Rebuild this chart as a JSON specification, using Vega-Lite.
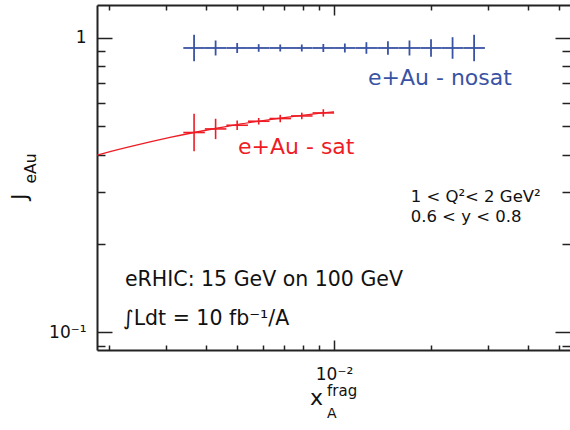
{
  "$schema": "https://vega.github.io/schema/vega-lite/v6.json",
  "width": 473,
  "height": 345,
  "autosize": {"type": "none"},
  "padding": {"left": 97, "top": 5, "right": 0, "bottom": 80},
  "background": "white",
  "config": {"view": {"stroke": null}, "font": "DejaVu Sans", "axis": {"grid": false}},
  "datasets": {
    "nosat": [
      {"x": 0.003676, "xlo": 0.003404, "xhi": 0.003971, "y": 0.922, "ylo": 0.8312, "yhi": 1.0228},
      {"x": 0.004288, "xlo": 0.003971, "xhi": 0.004632, "y": 0.922, "ylo": 0.8696, "yhi": 0.9776},
      {"x": 0.005003, "xlo": 0.004632, "xhi": 0.005404, "y": 0.922, "ylo": 0.8867, "yhi": 0.9587},
      {"x": 0.005836, "xlo": 0.005404, "xhi": 0.006304, "y": 0.922, "ylo": 0.8951, "yhi": 0.9497},
      {"x": 0.006808, "xlo": 0.006304, "xhi": 0.007354, "y": 0.922, "ylo": 0.8971, "yhi": 0.9475},
      {"x": 0.007942, "xlo": 0.007354, "xhi": 0.008579, "y": 0.922, "ylo": 0.8971, "yhi": 0.9475},
      {"x": 0.009265, "xlo": 0.008579, "xhi": 0.010007, "y": 0.922, "ylo": 0.8937, "yhi": 0.9512},
      {"x": 0.010807, "xlo": 0.010007, "xhi": 0.011674, "y": 0.922, "ylo": 0.8902, "yhi": 0.9549},
      {"x": 0.012607, "xlo": 0.011674, "xhi": 0.013618, "y": 0.922, "ylo": 0.8812, "yhi": 0.9647},
      {"x": 0.014707, "xlo": 0.013618, "xhi": 0.015888, "y": 0.922, "ylo": 0.8743, "yhi": 0.9722},
      {"x": 0.017157, "xlo": 0.015888, "xhi": 0.018533, "y": 0.922, "ylo": 0.8696, "yhi": 0.9776},
      {"x": 0.020015, "xlo": 0.018533, "xhi": 0.02162, "y": 0.922, "ylo": 0.8608, "yhi": 0.9876},
      {"x": 0.023349, "xlo": 0.02162, "xhi": 0.025222, "y": 0.922, "ylo": 0.8475, "yhi": 1.0031},
      {"x": 0.027237, "xlo": 0.025222, "xhi": 0.029424, "y": 0.922, "ylo": 0.8312, "yhi": 1.0228}
    ],
    "sat": [
      {"x": 0.003676, "xlo": 0.003404, "xhi": 0.003971, "y": 0.4764, "ylo": 0.4117, "yhi": 0.5512},
      {"x": 0.004288, "xlo": 0.003971, "xhi": 0.004632, "y": 0.4899, "ylo": 0.4524, "yhi": 0.5305},
      {"x": 0.005003, "xlo": 0.004632, "xhi": 0.005404, "y": 0.5042, "ylo": 0.486, "yhi": 0.5231},
      {"x": 0.005836, "xlo": 0.005404, "xhi": 0.006304, "y": 0.5202, "ylo": 0.507, "yhi": 0.5337},
      {"x": 0.006808, "xlo": 0.006304, "xhi": 0.007354, "y": 0.5313, "ylo": 0.5162, "yhi": 0.5469},
      {"x": 0.007942, "xlo": 0.007354, "xhi": 0.008579, "y": 0.5422, "ylo": 0.5285, "yhi": 0.5563},
      {"x": 0.009265, "xlo": 0.008579, "xhi": 0.010007, "y": 0.5551, "ylo": 0.5393, "yhi": 0.5714}
    ],
    "curve": [
      {"x": 0.001836, "y": 0.399},
      {"x": 0.002015, "y": 0.41},
      {"x": 0.002325, "y": 0.4264},
      {"x": 0.002683, "y": 0.4424},
      {"x": 0.003095, "y": 0.4582},
      {"x": 0.003674, "y": 0.4764},
      {"x": 0.004271, "y": 0.4915},
      {"x": 0.004997, "y": 0.5067},
      {"x": 0.005808, "y": 0.52},
      {"x": 0.006797, "y": 0.5331},
      {"x": 0.007955, "y": 0.545},
      {"x": 0.009243, "y": 0.5551},
      {"x": 0.01, "y": 0.56}
    ],
    "bigText": [
      {"x": 0.002243, "y": 0.1439, "text": "eRHIC: 15 GeV on 100 GeV"},
      {"x": 0.002211, "y": 0.1056, "text": "∫Ldt = 10 fb⁻¹/A"}
    ],
    "smallText": [
      {"x": 0.0173, "y": 0.2771, "text": "1 < Q²< 2 GeV²"},
      {"x": 0.0173, "y": 0.2371, "text": "0.6 < y < 0.8"}
    ],
    "blueLabel": [{"x": 0.012754, "y": 0.6893, "text": "e+Au - nosat"}],
    "redLabel": [{"x": 0.005033, "y": 0.4037, "text": "e+Au - sat"}],
    "xTitleMain": [{"x": 0.008424, "y": 0.05669, "text": "x"}],
    "xTitleSub": [{"x": 0.009513, "y": 0.05123, "text": "A"}],
    "xTitleSup": [{"x": 0.009513, "y": 0.0608, "text": "frag"}],
    "yTitleMain": [{"x": 0.001111, "y": 0.2809, "text": "J"}],
    "yTitleSub": [{"x": 0.001187, "y": 0.3199, "text": "eAu"}]
  },
  "layer": [
    {
      "data": {"name": "curve"},
      "mark": {"type": "line", "color": "#ee1c25", "strokeWidth": 1.3, "interpolate": "monotone"},
      "encoding": {
        "x": {"field": "x", "type": "quantitative", "scale": {"type": "log", "domain": [0.001836, 0.05408], "nice": false}, "axis": null},
        "y": {"field": "y", "type": "quantitative", "scale": {"type": "log", "domain": [0.0871, 1.29], "nice": false}, "axis": null}
      }
    },
    {
      "data": {"name": "nosat"},
      "mark": {"type": "rule", "color": "#3953a4", "strokeWidth": 1.8},
      "encoding": {
        "x": {"field": "xlo", "type": "quantitative", "scale": {"type": "log", "domain": [0.001836, 0.05408], "nice": false}, "axis": null},
        "x2": {"field": "xhi"},
        "y": {"field": "y", "type": "quantitative", "scale": {"type": "log", "domain": [0.0871, 1.29], "nice": false}, "axis": null}
      }
    },
    {
      "data": {"name": "nosat"},
      "mark": {"type": "rule", "color": "#3953a4", "strokeWidth": 1.8},
      "encoding": {
        "x": {"field": "x", "type": "quantitative", "scale": {"type": "log", "domain": [0.001836, 0.05408], "nice": false},
          "axis": {"orient": "bottom", "title": null, "values": [0.002, 0.003, 0.004, 0.005, 0.006, 0.007, 0.008, 0.009, 0.01, 0.02, 0.03, 0.04, 0.05],
            "domainColor": "#222", "domainWidth": 2, "tickColor": "#222", "tickWidth": 1.5,
            "tickSize": {"condition": {"test": "datum.value == 0.01", "value": -10}, "value": -5},
            "labelExpr": "datum.value == 0.01 ? '10⁻²' : ''", "labelFontSize": 17, "labelFont": "DejaVu Sans", "labelColor": "#111",
            "labelPadding": 26, "labelFlush": false, "labelOverlap": false}},
        "y": {"field": "ylo", "type": "quantitative", "scale": {"type": "log", "domain": [0.0871, 1.29], "nice": false},
          "axis": {"orient": "left", "title": null, "values": [0.09, 0.1, 0.2, 0.3, 0.4, 0.5, 0.6, 0.7, 0.8, 0.9, 1],
            "domainColor": "#222", "domainWidth": 2, "tickColor": "#222", "tickWidth": 1.5,
            "tickSize": {"condition": {"test": "datum.value == 1 || datum.value == 0.1", "value": -15}, "value": -8},
            "labelExpr": "datum.value == 1 ? '1' : (datum.value == 0.1 ? '10⁻¹' : '')", "labelFontSize": 17, "labelFont": "DejaVu Sans", "labelColor": "#111",
            "labelPadding": 26, "labelFlush": false, "labelOverlap": false}},
        "y2": {"field": "yhi"}
      }
    },
    {
      "data": {"name": "sat"},
      "mark": {"type": "rule", "color": "#ee1c25", "strokeWidth": 1.6},
      "encoding": {
        "x": {"field": "xlo", "type": "quantitative", "scale": {"type": "log", "domain": [0.001836, 0.05408], "nice": false}, "axis": null},
        "x2": {"field": "xhi"},
        "y": {"field": "y", "type": "quantitative", "scale": {"type": "log", "domain": [0.0871, 1.29], "nice": false}, "axis": null}
      }
    },
    {
      "data": {"name": "sat"},
      "mark": {"type": "rule", "color": "#ee1c25", "strokeWidth": 1.6},
      "encoding": {
        "x": {"field": "x", "type": "quantitative", "scale": {"type": "log", "domain": [0.001836, 0.05408], "nice": false},
          "axis": {"orient": "top", "title": null, "values": [0.002, 0.003, 0.004, 0.005, 0.006, 0.007, 0.008, 0.009, 0.01, 0.02, 0.03, 0.04, 0.05],
            "domainColor": "#222", "domainWidth": 2, "tickColor": "#222", "tickWidth": 1.5,
            "tickSize": {"condition": {"test": "datum.value == 0.01", "value": -10}, "value": -5},
            "labels": false}},
        "y": {"field": "ylo", "type": "quantitative", "scale": {"type": "log", "domain": [0.0871, 1.29], "nice": false},
          "axis": {"orient": "right", "title": null, "values": [0.09, 0.1, 0.2, 0.3, 0.4, 0.5, 0.6, 0.7, 0.8, 0.9, 1],
            "domain": false, "tickColor": "#222", "tickWidth": 1.5,
            "tickSize": {"condition": {"test": "datum.value == 1 || datum.value == 0.1", "value": -15}, "value": -8},
            "labels": false}},
        "y2": {"field": "yhi"}
      }
    },
    {
      "data": {"name": "blueLabel"},
      "mark": {"type": "text", "color": "#3953a4", "fontSize": 22, "font": "DejaVu Sans", "align": "left", "baseline": "alphabetic"},
      "encoding": {
        "x": {"field": "x", "type": "quantitative", "scale": {"type": "log", "domain": [0.001836, 0.05408], "nice": false}, "axis": null},
        "y": {"field": "y", "type": "quantitative", "scale": {"type": "log", "domain": [0.0871, 1.29], "nice": false}, "axis": null},
        "text": {"field": "text"}
      }
    },
    {
      "data": {"name": "redLabel"},
      "mark": {"type": "text", "color": "#ee1c25", "fontSize": 22, "font": "DejaVu Sans", "align": "left", "baseline": "alphabetic"},
      "encoding": {
        "x": {"field": "x", "type": "quantitative", "scale": {"type": "log", "domain": [0.001836, 0.05408], "nice": false}, "axis": null},
        "y": {"field": "y", "type": "quantitative", "scale": {"type": "log", "domain": [0.0871, 1.29], "nice": false}, "axis": null},
        "text": {"field": "text"}
      }
    },
    {
      "data": {"name": "bigText"},
      "mark": {"type": "text", "color": "#111", "fontSize": 20.5, "font": "DejaVu Sans", "align": "left", "baseline": "alphabetic"},
      "encoding": {
        "x": {"field": "x", "type": "quantitative", "scale": {"type": "log", "domain": [0.001836, 0.05408], "nice": false}, "axis": null},
        "y": {"field": "y", "type": "quantitative", "scale": {"type": "log", "domain": [0.0871, 1.29], "nice": false}, "axis": null},
        "text": {"field": "text"}
      }
    },
    {
      "data": {"name": "smallText"},
      "mark": {"type": "text", "color": "#111", "fontSize": 16.5, "font": "DejaVu Sans", "align": "left", "baseline": "alphabetic"},
      "encoding": {
        "x": {"field": "x", "type": "quantitative", "scale": {"type": "log", "domain": [0.001836, 0.05408], "nice": false}, "axis": null},
        "y": {"field": "y", "type": "quantitative", "scale": {"type": "log", "domain": [0.0871, 1.29], "nice": false}, "axis": null},
        "text": {"field": "text"}
      }
    },
    {
      "data": {"name": "xTitleMain"},
      "mark": {"type": "text", "color": "#111", "fontSize": 22, "font": "DejaVu Sans", "align": "left", "baseline": "alphabetic"},
      "encoding": {
        "x": {"field": "x", "type": "quantitative", "scale": {"type": "log", "domain": [0.001836, 0.05408], "nice": false}, "axis": null},
        "y": {"field": "y", "type": "quantitative", "scale": {"type": "log", "domain": [0.0871, 1.29], "nice": false}, "axis": null},
        "text": {"field": "text"}
      }
    },
    {
      "data": {"name": "xTitleSub"},
      "mark": {"type": "text", "color": "#111", "fontSize": 14, "font": "DejaVu Sans", "align": "left", "baseline": "alphabetic"},
      "encoding": {
        "x": {"field": "x", "type": "quantitative", "scale": {"type": "log", "domain": [0.001836, 0.05408], "nice": false}, "axis": null},
        "y": {"field": "y", "type": "quantitative", "scale": {"type": "log", "domain": [0.0871, 1.29], "nice": false}, "axis": null},
        "text": {"field": "text"}
      }
    },
    {
      "data": {"name": "xTitleSup"},
      "mark": {"type": "text", "color": "#111", "fontSize": 15, "font": "DejaVu Sans", "align": "left", "baseline": "alphabetic"},
      "encoding": {
        "x": {"field": "x", "type": "quantitative", "scale": {"type": "log", "domain": [0.001836, 0.05408], "nice": false}, "axis": null},
        "y": {"field": "y", "type": "quantitative", "scale": {"type": "log", "domain": [0.0871, 1.29], "nice": false}, "axis": null},
        "text": {"field": "text"}
      }
    },
    {
      "data": {"name": "yTitleMain"},
      "mark": {"type": "text", "color": "#111", "fontSize": 22, "font": "DejaVu Sans", "align": "left", "baseline": "alphabetic", "angle": 270},
      "encoding": {
        "x": {"field": "x", "type": "quantitative", "scale": {"type": "log", "domain": [0.001836, 0.05408], "nice": false}, "axis": null},
        "y": {"field": "y", "type": "quantitative", "scale": {"type": "log", "domain": [0.0871, 1.29], "nice": false}, "axis": null},
        "text": {"field": "text"}
      }
    },
    {
      "data": {"name": "yTitleSub"},
      "mark": {"type": "text", "color": "#111", "fontSize": 15.5, "font": "DejaVu Sans", "align": "left", "baseline": "alphabetic", "angle": 270},
      "encoding": {
        "x": {"field": "x", "type": "quantitative", "scale": {"type": "log", "domain": [0.001836, 0.05408], "nice": false}, "axis": null},
        "y": {"field": "y", "type": "quantitative", "scale": {"type": "log", "domain": [0.0871, 1.29], "nice": false}, "axis": null},
        "text": {"field": "text"}
      }
    }
  ],
  "resolve": {"axis": {"x": "independent", "y": "independent"}}
}
